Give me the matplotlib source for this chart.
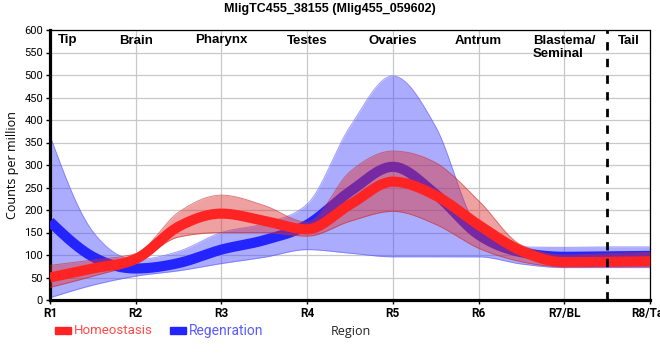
import numpy as np
import matplotlib
matplotlib.use("Agg")
from matplotlib import pyplot as plt
from matplotlib.patches import Rectangle

regions = ["R1", "R2", "R3", "R4", "R5", "R6", "R7/BL", "R8/Tail"]
region_names = ["Tip", "Brain", "Pharynx", "Testes", "Ovaries", "Antrum", "Blastema/\nSeminal", "Tail"]
sample_pos = [1, 1.5, 2, 2.5, 3, 3.5, 4, 4.5, 5, 5.5, 6, 6.5, 7, 7.5, 8]

homeo_mean = [50, 70, 91, 163, 192, 176, 157, 212, 263, 232, 167, 109, 84, 85, 86]
homeo_low = [28, 53, 82, 140, 150, 150, 142, 175, 197, 168, 115, 85, 74, 74, 75]
homeo_high = [77, 89, 103, 195, 233, 210, 173, 285, 331, 305, 221, 122, 100, 103, 106]

regen_mean = [174, 96, 70, 82, 112, 133, 167, 241, 296, 235, 145, 106, 96, 97, 98]
regen_low = [5, 33, 53, 65, 81, 95, 112, 104, 96, 96, 96, 80, 72, 72, 72]
regen_high = [365, 152, 90, 108, 150, 170, 213, 385, 498, 385, 160, 118, 117, 118, 118]


def monotone_curve(xp, y, n=40):
    # monotone cubic hermite, same idea as d3.curveMonotoneX
    x = np.asarray(xp, dtype=float)
    y = np.asarray(y, dtype=float)
    h = np.diff(x)
    s = np.diff(y) / h
    t = np.zeros(len(y))
    for i in range(1, len(y) - 1):
        s0, s1 = s[i - 1], s[i]
        p = (s0 * h[i] + s1 * h[i - 1]) / (h[i - 1] + h[i])
        t[i] = (np.sign(s0) + np.sign(s1)) * min(abs(s0), abs(s1), 0.5 * abs(p))
    t[0] = (3 * s[0] - t[1]) / 2.0
    t[-1] = (3 * s[-1] - t[-2]) / 2.0
    xs, ys = [], []
    for i in range(len(y) - 1):
        u = np.linspace(0, 1, n, endpoint=(i == len(y) - 2))
        h00 = 2 * u**3 - 3 * u**2 + 1
        h10 = u**3 - 2 * u**2 + u
        h01 = -2 * u**3 + 3 * u**2
        h11 = u**3 - u**2
        xs.append(x[i] + u * h[i])
        ys.append(h00 * y[i] + h10 * h[i] * t[i] + h01 * y[i + 1] + h11 * h[i] * t[i + 1])
    return np.concatenate(xs), np.concatenate(ys)


plt.rcParams['font.family'] = ['Liberation Sans', 'DejaVu Sans']

fig = plt.figure(figsize=(6.6, 3.6), dpi=100)
ax = fig.add_axes([50 / 660, 60 / 360, 600 / 660, 270 / 360])

red = "#ff2424"
blue = "#2424ff"

xb, yb_lo = monotone_curve(sample_pos, regen_low)
_, yb_hi = monotone_curve(sample_pos, regen_high)
ax.fill_between(xb, yb_lo, yb_hi, color="#4848ff", alpha=0.45, lw=0, zorder=2)
ax.plot(xb, yb_lo, color="#6060ff", lw=0.7, alpha=0.6, zorder=2)
ax.plot(xb, yb_hi, color="#6060ff", lw=0.7, alpha=0.6, zorder=2)
xm, ym = monotone_curve(sample_pos, regen_mean)
ax.plot(xm, ym, color=blue, lw=7.3, solid_capstyle="butt", zorder=3)

xr, yr_lo = monotone_curve(sample_pos, homeo_low)
_, yr_hi = monotone_curve(sample_pos, homeo_high)
ax.fill_between(xr, yr_lo, yr_hi, color="#dc3030", alpha=0.45, lw=0, zorder=4)
ax.plot(xr, yr_lo, color="#c83030", lw=0.7, alpha=0.6, zorder=4)
ax.plot(xr, yr_hi, color="#c83030", lw=0.7, alpha=0.6, zorder=4)
xm, ym = monotone_curve(sample_pos, homeo_mean)
ax.plot(xm, ym, color=red, lw=7.3, solid_capstyle="butt", zorder=5)

ax.axvline(7.5, color="black", lw=2, ls=(0, (3, 3)), zorder=6)

ax.set_xlim(1, 8)
ax.set_ylim(0, 600)
ax.set_yticks(np.arange(0, 601, 50))
ax.set_xticks(range(1, len(regions) + 1))
ax.set_xticklabels(regions, fontsize=8.5, fontweight="bold", family=["Roboto", "DejaVu Sans"])
for lab in ax.get_yticklabels():
    lab.set_fontsize(8)
    lab.set_family(["Roboto", "DejaVu Sans"])
ax.grid(True, color="#c8c8c8", lw=0.9, zorder=0)
ax.set_axisbelow(True)
ax.tick_params(axis="both", length=3, width=1, pad=2)

ax.spines["left"].set_linewidth(2.3)
ax.spines["bottom"].set_linewidth(2.3)
ax.spines["top"].set_linewidth(0.9)
ax.spines["right"].set_linewidth(0.9)

# region names along the top
name_pos = [1.2, 2, 3, 4, 5, 6, 6.635, 7.75]
for pos, nm in zip(name_pos, region_names):
    ha = "left" if "\n" in nm else "center"
    ax.text(pos, 590, nm, ha=ha, va="top", fontsize=9.5, fontweight="bold",
            linespacing=1.15, zorder=7)

ax.set_ylabel("Counts per million", fontsize=9, family=["Open Sans", "DejaVu Sans"], labelpad=4)

fig.text(0.5, 1 - 9 / 360, "MligTC455_38155 (Mlig455_059602)", ha="center", va="center",
         fontsize=9, fontweight="bold")

# legend row at the bottom
fig.patches.append(Rectangle((55 / 660, 1 - 334 / 360), 16 / 660, 7 / 360,
                             transform=fig.transFigure, color=red, figure=fig))
fig.text(74 / 660, 1 - 331 / 360, "Homeostasis", color="#ff4a4a", fontsize=9.5,
         va="center", ha="left", family=["Roboto", "DejaVu Sans"])
fig.patches.append(Rectangle((170 / 660, 1 - 334 / 360), 16 / 660, 7 / 360,
                             transform=fig.transFigure, color=blue, figure=fig))
fig.text(189 / 660, 1 - 331 / 360, "Regenration", color="#5a5aff", fontsize=10,
         va="center", ha="left", family=["Roboto", "DejaVu Sans"])
fig.text(331 / 660, 1 - 331 / 360, "Region", color="#222222", fontsize=9,
         va="center", ha="left", family=["Open Sans", "DejaVu Sans"])

fig.savefig("out.png", dpi=100)
